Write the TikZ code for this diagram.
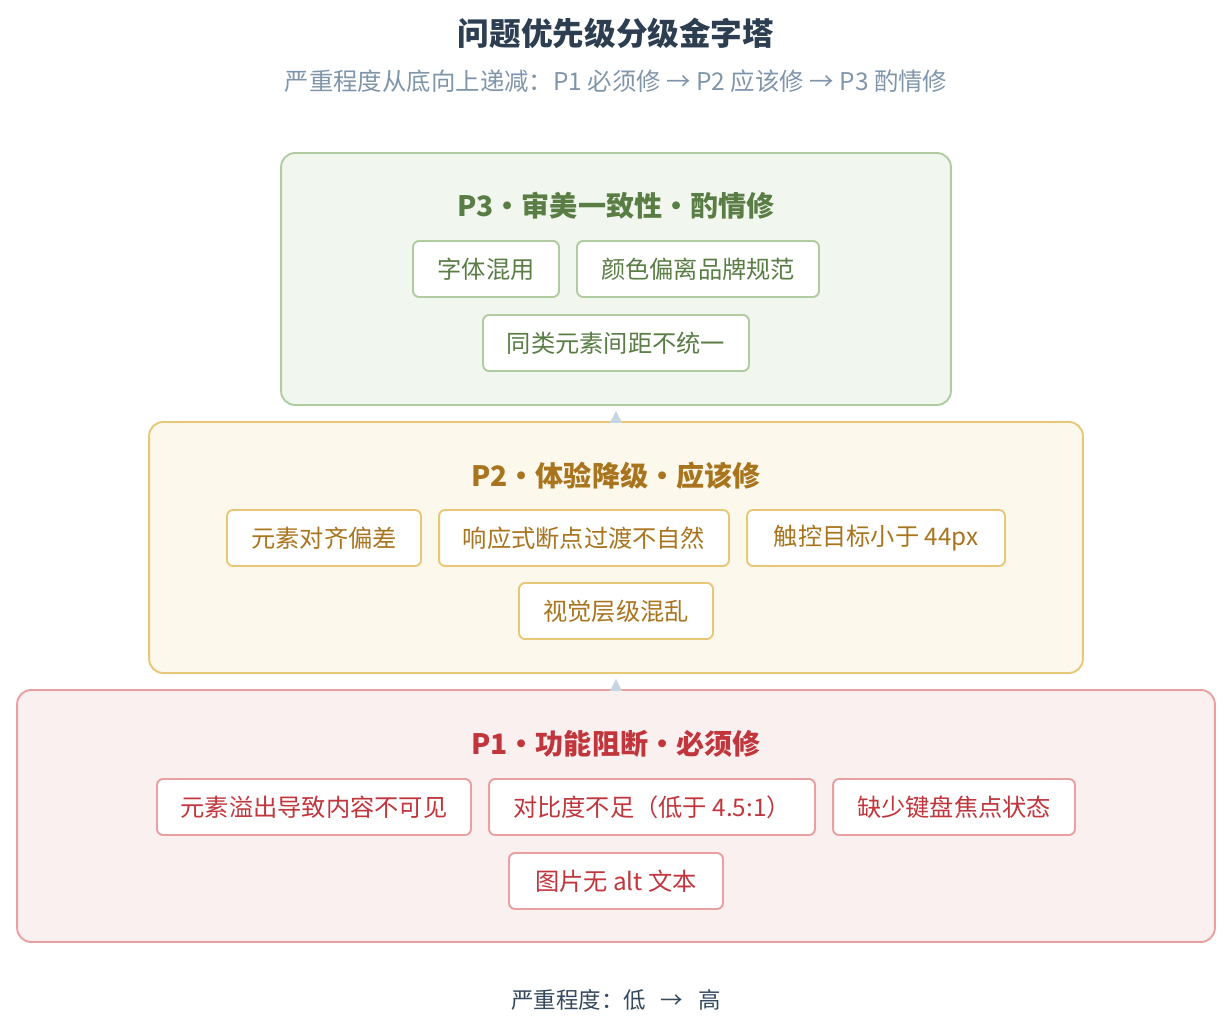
\documentclass[tikz,border=0pt]{standalone}
\usepackage{fontspec}
\setmainfont{Noto Sans CJK SC}
\usetikzlibrary{arrows.meta}

\definecolor{titlec}{HTML}{2C3E50}
\definecolor{subc}{HTML}{7F95AA}
\definecolor{legc}{HTML}{34495E}
\definecolor{arrc}{HTML}{C5D6E3}
\definecolor{gline}{HTML}{B0CCA0}
\definecolor{gfill}{HTML}{F1F7EE}
\definecolor{gtext}{HTML}{5A7D45}
\definecolor{yline}{HTML}{E8C878}
\definecolor{yfill}{HTML}{FDF8EC}
\definecolor{ytext}{HTML}{A8741E}
\definecolor{rline}{HTML}{E8A0A0}
\definecolor{rfill}{HTML}{FBF0F0}
\definecolor{rtext}{HTML}{C0363C}

\begin{document}
\begin{tikzpicture}[x=0.02cm, y=-0.02cm,
    tier/.style={draw, line width=1.1pt, rounded corners=0.28cm, minimum height=5.04cm},
    tiertitle/.style={font=\fontsize{16}{19}\selectfont\bfseries},
    chip/.style={draw, fill=white, line width=1.1pt, rounded corners=0.12cm,
        minimum height=1.12cm, inner sep=0pt, font=\fontsize{13.8}{16}\selectfont},
    gchip/.style={chip, draw=gline, text=gtext},
    ychip/.style={chip, draw=yline, text=ytext},
    rchip/.style={chip, draw=rline, text=rtext},
    up/.style={draw=arrc, line width=0.4pt, shorten >=0.1cm, -{Triangle[length=0.24cm, width=0.24cm]}}]
                \useasboundingbox (0,0) rectangle (1230,1026);

                % Nodes
                \node[text=titlec, font=\fontsize{18}{21}\selectfont\bfseries] (title) at (616,33) {问题优先级分级金字塔};
                \node[text=subc, font=\fontsize{13.9}{16}\selectfont] (subtitle) at (616,81) {严重程度从底向上递减：P1 必须修 → P2 应该修 → P3 酌情修};

                \node[tier, draw=gline, fill=gfill, minimum width=13.4cm] (p3box) at (616,279) {};
                \node[tier, draw=yline, fill=yfill, minimum width=18.68cm, minimum height=5.02cm] (p2box) at (616,547.5) {};
                \node[tier, draw=rline, fill=rfill, minimum width=23.96cm] (p1box) at (616,816) {};

                \node[tiertitle, text=gtext] (p3title) at (616,206) {P3•审美一致性•酌情修};
                \node[gchip, minimum width=2.92cm] (p3a) at (486,269) {字体混用};
                \node[gchip, minimum width=4.84cm] (p3b) at (698,269) {颜色偏离品牌规范};
                \node[gchip, minimum width=5.32cm] (p3c) at (616,343) {同类元素间距不统一};

                \node[tiertitle, text=ytext] (p2title) at (616,476) {P2•体验降级•应该修};
                \node[ychip, minimum width=3.88cm] (p2a) at (324,538) {元素对齐偏差};
                \node[ychip, minimum width=5.8cm] (p2b) at (584,538) {响应式断点过渡不自然};
                \node[ychip, minimum width=5.16cm] (p2c) at (876,538) {触控目标小于 44px};
                \node[ychip, minimum width=3.88cm] (p2d) at (616,611) {视觉层级混乱};

                \node[tiertitle, text=rtext] (p1title) at (616,744) {P1•功能阻断•必须修};
                \node[rchip, minimum width=6.28cm] (p1a) at (314,807) {元素溢出导致内容不可见};
                \node[rchip, minimum width=6.52cm] (p1b) at (652,807) {对比度不足（低于 4.5:1）};
                \node[rchip, minimum width=4.84cm] (p1c) at (954,807) {缺少键盘焦点状态};
                \node[rchip, minimum width=4.28cm] (p1d) at (616,881) {图片无 alt 文本};

                \node[text=legc, font=\fontsize{12.8}{15}\selectfont] (legend) at (616,1000) {严重程度：低\hspace{0.3cm}→\hspace{0.3cm}高};

                % Edges
                \draw[up] (p2box.north) -- (p3box.south);
                \draw[up] (p1box.north) -- (p2box.south);
            \end{tikzpicture}
\end{document}
